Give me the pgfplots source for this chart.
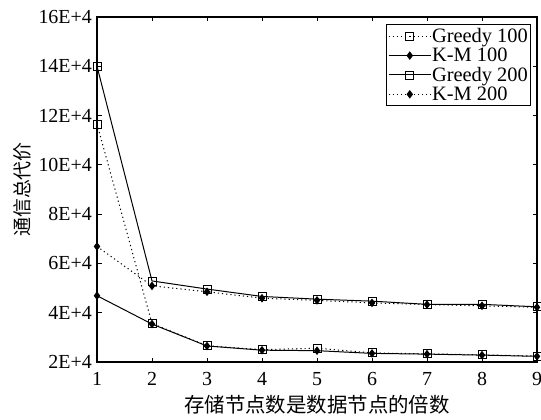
\documentclass[border=0pt]{standalone}
\usepackage{pgfplots}
\pgfplotsset{compat=1.18}
\usepackage{fontspec}
\setmainfont{Liberation Serif}
\newfontfamily\cjk{Noto Sans CJK SC}
\begin{document}
\begin{tikzpicture}
\begin{axis}[
  scale only axis,
  width=440bp, height=345bp,
  xmin=1, xmax=9, ymin=20000, ymax=160000,
  xtick={1,...,9},
  ytick={20000,40000,60000,80000,100000,120000,140000,160000},
  yticklabels={2E+4,4E+4,6E+4,8E+4,10E+4,12E+4,14E+4,16E+4},
  scaled y ticks=false,
  tick align=inside, tick pos=both,
  major tick length=4.5bp,
  axis line style={line width=1.2pt},
  every tick/.style={line width=0.9pt, black},
  /pgf/number format/assume math mode=true,
  tick label style={font=\fontsize{20}{22}\selectfont},
  xticklabel style={inner sep=0pt, yshift=-10bp},
  yticklabel style={inner sep=0pt, xshift=-5bp},
  xlabel={\cjk 存储节点数是数据节点的倍数},
  ylabel={\cjk 通信总代价},
  xlabel style={font=\fontsize{20.5}{22}\selectfont, inner sep=0pt, at={(axis description cs:0.5,0)}, anchor=center, yshift=-43bp},
  ylabel style={font=\fontsize{19}{21}\selectfont, inner sep=0pt, at={(axis description cs:0,0.5)}, anchor=center, yshift=75bp},
  legend style={at={(0.986,0.980)}, anchor=north east, draw=black, line width=0.9pt,
    font=\fontsize{20.5}{22}\selectfont, inner xsep=2bp, inner ysep=3.5bp,
    nodes={inner sep=0.5bp}, row sep=3bp,
    legend cell align=left},
  legend image code/.code={
    \draw[mark repeat=2, mark phase=2] plot coordinates {(0cm,0cm) (0.75cm,0cm) (1.5cm,0cm)};},
]
\addplot[black, line width=1pt, dash pattern=on 1.2pt off 3pt, mark=square, mark size=4bp, mark options={solid, line width=0.8pt}]
  coordinates {(1,116600) (2,35600) (3,26600) (4,25000) (5,25600) (6,23700) (7,23300) (8,22900) (9,22400)};
\addlegendentry{Greedy 100\hspace{14bp}}
\addplot[black, line width=1pt, mark=diamond*, mark size=3.5bp, mark options={solid}]
  coordinates {(1,46900) (2,35400) (3,26500) (4,24800) (5,24600) (6,23500) (7,23200) (8,22800) (9,22300)};
\addlegendentry{K-M 100}
\addplot[black, line width=1pt, mark=square, mark size=4bp, mark options={solid, line width=0.8pt}]
  coordinates {(1,140000) (2,52900) (3,49600) (4,46600) (5,45500) (6,44700) (7,43400) (8,43400) (9,42400)};
\addlegendentry{Greedy 200}
\addplot[black, line width=1pt, dash pattern=on 1.2pt off 3pt, mark=diamond*, mark size=3.5bp, mark options={solid}]
  coordinates {(1,66900) (2,50900) (3,48500) (4,45900) (5,45000) (6,44000) (7,43300) (8,42800) (9,42200)};
\addlegendentry{K-M 200}
\end{axis}
\pgfresetboundingbox
\useasboundingbox ([xshift=-97bp,yshift=-57bp]current axis.south west) rectangle ([xshift=4bp,yshift=17bp]current axis.north east);
\end{tikzpicture}
\end{document}
